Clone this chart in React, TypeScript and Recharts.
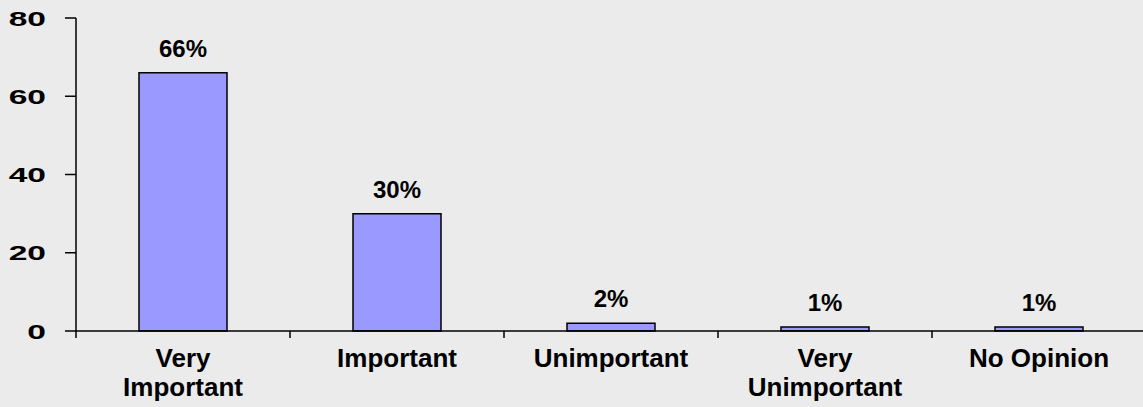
import { BarChart, Bar, XAxis, YAxis, LabelList } from 'recharts';

const categories = ['Very Important', 'Important', 'Unimportant', 'Very Unimportant', 'No Opinion'];
const percents = [66, 30, 2, 1, 1];
const yTicks = [0, 20, 40, 60, 80];

const data = categories.map((name, i) => ({ name, value: percents[i] }));

const FONT = '"Liberation Sans", Arial, sans-serif';

let ctx: CanvasRenderingContext2D | null = null;
function measure(s: string) {
  if (!ctx) ctx = document.createElement('canvas').getContext('2d');
  if (!ctx) return s.length * 14;
  ctx.font = `bold 26px ${FONT}`;
  return ctx.measureText(s).width;
}

// greedy word wrap to a max width
function wrap(label: string, maxW: number) {
  const words = label.split(' ');
  const lines: string[] = [];
  let cur = '';
  for (const w of words) {
    const next = cur ? cur + ' ' + w : w;
    if (cur && measure(next) > maxW) {
      lines.push(cur);
      cur = w;
    } else {
      cur = next;
    }
  }
  if (cur) lines.push(cur);
  return lines;
}

function YTick(props: any) {
  const { x, y, payload } = props;
  return (
    <g transform={`translate(${x},${y}) scale(1.6,1)`}>
      <text x={0} y={0} dy="0.36em" textAnchor="end" fontFamily={FONT} fontWeight="bold" fontSize={21} fill="#000">
        {payload.value}
      </text>
    </g>
  );
}

function XTick(props: any) {
  const { x, y, payload, width } = props;
  const half = payload.offset ?? width / categories.length / 2;
  const bx = x - half;
  const lines = wrap(String(payload.value), 150);
  return (
    <g>
      <line x1={bx} y1={y} x2={bx} y2={y + 7} stroke="#000" strokeWidth={1.5} />
      <text textAnchor="middle" fontFamily={FONT} fontWeight="bold" fontSize={26} fill="#000">
        {lines.map((l, i) => (
          <tspan key={i} x={x} y={y + 36 + i * 29}>
            {l}
          </tspan>
        ))}
      </text>
    </g>
  );
}

export default function App() {
  return (
    <div style={{ width: 1143, height: 407, overflow: 'hidden', background: '#ebebeb' }}>
      <style>{'body{margin:0;background:#ebebeb;}'}</style>
      <BarChart
        width={1146}
        height={407}
        data={data}
        margin={{ top: 18, right: 0, bottom: 0, left: 0 }}
      >
        <XAxis
          dataKey="name"
          height={76}
          axisLine={{ stroke: '#000', strokeWidth: 1.5 }}
          tickLine={false}
          tickSize={0}
          tickMargin={0}
          interval={0}
          tick={<XTick />}
        />
        <YAxis
          width={76}
          domain={[0, 80]}
          ticks={yTicks}
          interval={0}
          axisLine={{ stroke: '#000', strokeWidth: 1.5 }}
          tickLine={{ stroke: '#000', strokeWidth: 1.5 }}
          tickSize={11}
          tickMargin={19}
          tick={<YTick />}
        />
        <Bar dataKey="value" fill="#9999ff" stroke="#000" strokeWidth={1.5} barSize={88} isAnimationActive={false}>
          <LabelList
            dataKey="value"
            position="top"
            offset={16}
            formatter={(v: any) => `${v}%`}
            style={{ fontFamily: FONT, fontWeight: 'bold', fontSize: 24, fill: '#000' }}
          />
        </Bar>
      </BarChart>
    </div>
  );
}
